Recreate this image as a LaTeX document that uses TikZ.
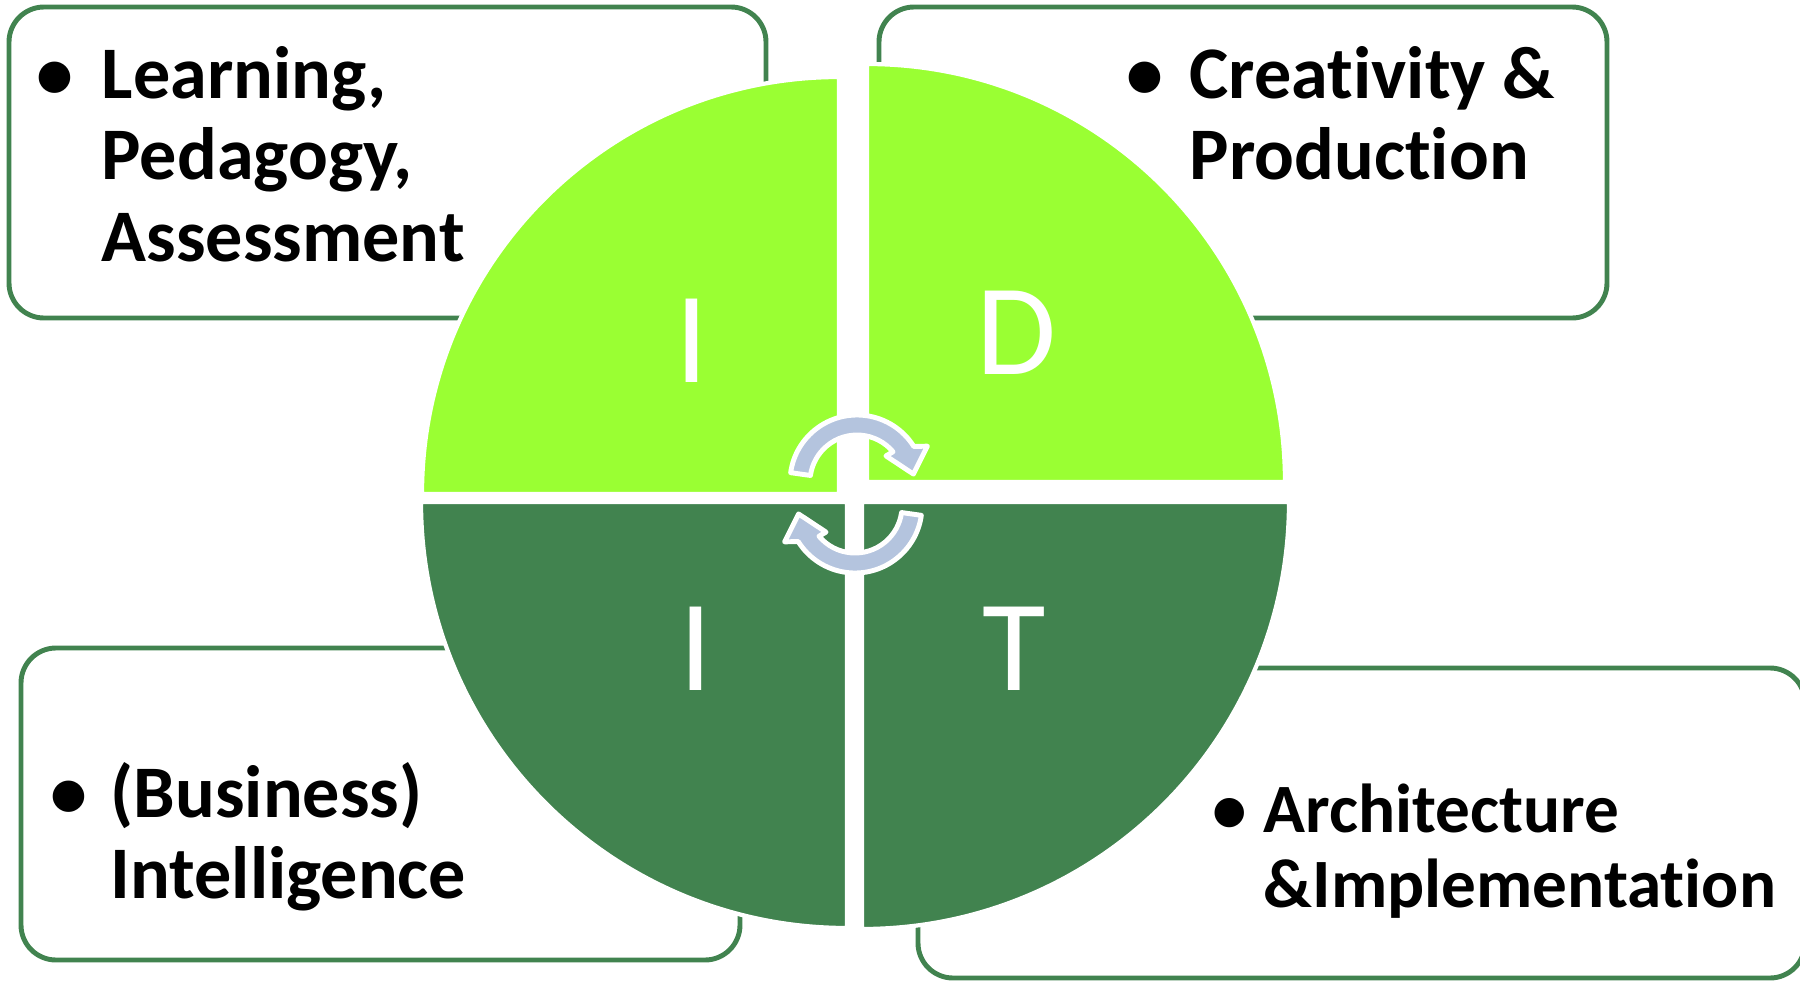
\documentclass[tikz,border=0pt]{standalone}
\usepackage{fontspec}
\setmainfont[Ligatures=NoCommon]{Carlito}
\usepackage{tikz}
\usetikzlibrary{positioning, calc}
\definecolor{limegreen}{RGB}{154,255,51}
\definecolor{leafgreen}{RGB}{65,131,79}
\definecolor{cyclegray}{RGB}{180,196,222}
\tikzset{
    infobox/.style={
        draw=leafgreen,
        line width=1.4pt,
        rounded corners=0.35cm,
        fill=white
    },
    lightquad/.style={
        fill=limegreen,
        draw=white,
        line width=1.2pt
    },
    darkquad/.style={
        fill=leafgreen,
        draw=white,
        line width=1.2pt
    },
    quadletter/.style={
        text=white,
        inner sep=0pt,
        font=\fontsize{37}{37}\selectfont
    },
    bulletmark/.style={
        inner sep=0pt,
        anchor=base,
        font=\fontsize{21.1}{23.3}\selectfont\bfseries
    },
    itemtext/.style={
        inner sep=0pt,
        anchor=base west,
        font=\fontsize{21.1}{23.3}\selectfont\bfseries
    },
    smallitem/.style={
        font=\fontsize{19.7}{21.6}\selectfont\bfseries
    },
    cyclearrow/.style={
        fill=cyclegray,
        draw=white,
        line width=1.4pt,
        line join=round
    }
}
\newcommand{\itemlines}[1]{\parbox[t]{8cm}{#1}}

\begin{document}
\begin{tikzpicture}

\useasboundingbox (0,0) rectangle (18,9.8);

%---------------- Boxes ----------------

\draw[infobox] (0.09,6.62) rectangle (7.66,9.73);
\draw[infobox] (8.79,6.62) rectangle (16.07,9.73);
\draw[infobox] (0.21,0.20) rectangle (7.40,3.32);
\draw[infobox] (9.18,0.02) rectangle (18.05,3.12);

\node[bulletmark] (b1) at (0.55,8.82) {\textbullet};
\node[itemtext] (t1) at (1.01,8.82) {\itemlines{Learning,\\Pedagogy,\\Assessment}};

\node[bulletmark] (b2) at (11.45,8.82) {\textbullet};
\node[itemtext] (t2) at (11.89,8.82) {\itemlines{Creativity \&\\Production}};

\node[bulletmark] (b3) at (0.69,1.63) {\textbullet};
\node[itemtext] (t3) at (1.10,1.63) {\itemlines{(Business)\\Intelligence}};

\node[bulletmark, smallitem] (b4) at (12.30,1.48) {\textbullet};
\node[itemtext, smallitem] (t4) at (12.63,1.48) {\itemlines{Architecture\\\&Implementation}};

%---------------- Quadrants ----------------

\coordinate (qtl) at (8.39,4.86);
\coordinate (qtr) at (8.67,4.98);
\coordinate (qbl) at (8.47,4.78);
\coordinate (qbr) at (8.62,4.78);

\draw[lightquad] (qtl) -- ++(-4.17,0) arc[start angle=180, end angle=90, radius=4.17] -- cycle;
\draw[lightquad] (qtr) -- ++(0,4.18) arc[start angle=90, end angle=0, radius=4.18] -- cycle;
\draw[darkquad] (qbl) -- ++(0,-4.26) arc[start angle=270, end angle=180, radius=4.26] -- cycle;
\draw[darkquad] (qbr) -- ++(4.27,0) arc[start angle=0, end angle=-90, radius=4.27] -- cycle;

\node[quadletter] (li) at (6.92,6.39) {I};
\node[quadletter] (ld) at (10.16,6.47) {D};
\node[quadletter] (lii) at (6.96,3.31) {I};
\node[quadletter] (lt) at (10.14,3.31) {T};

%---------------- Cycle arrows ----------------

\coordinate (c1) at (8.57,4.98);
\coordinate (c2) at (8.55,4.74);

\draw[cyclearrow] ($(c1)+(172:0.67)$) arc[start angle=172, end angle=32, radius=0.67]
    -- ($(c1)+(27:0.79)$) -- ($(c1)+(8:0.57)$) -- ($(c1)+(42:0.39)$)
    -- ($(c1)+(40:0.47)$) arc[start angle=40, end angle=172, radius=0.47] -- cycle;

\draw[cyclearrow] ($(c2)+(352:0.67)$) arc[start angle=352, end angle=212, radius=0.67]
    -- ($(c2)+(207:0.79)$) -- ($(c2)+(188:0.57)$) -- ($(c2)+(222:0.39)$)
    -- ($(c2)+(220:0.47)$) arc[start angle=220, end angle=352, radius=0.47] -- cycle;

\end{tikzpicture}
\end{document}
